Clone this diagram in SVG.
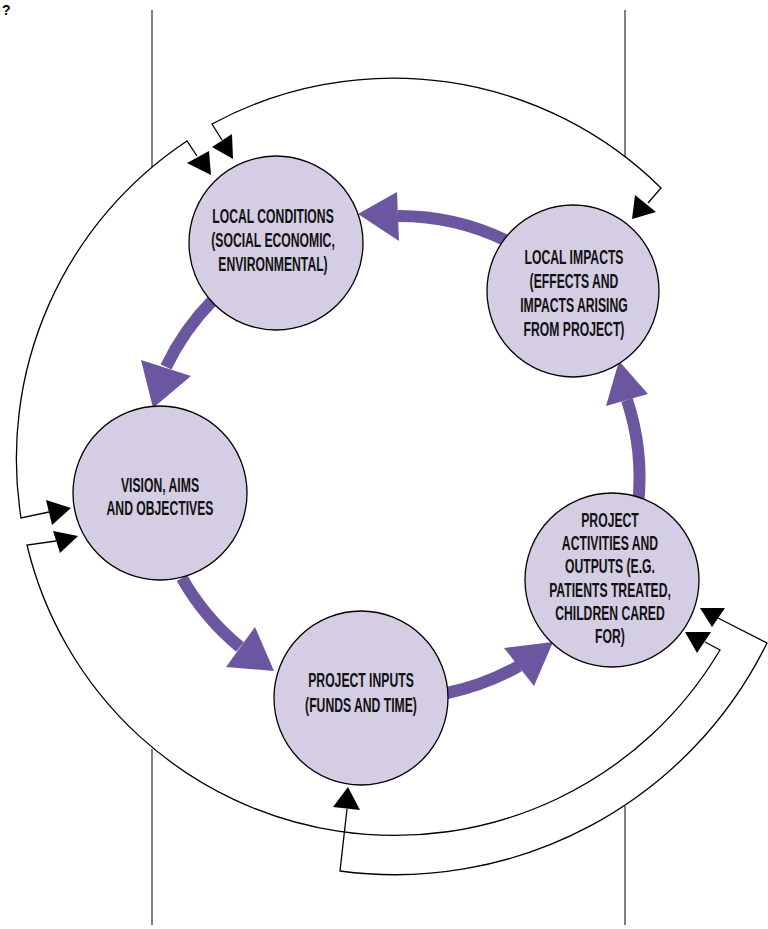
<svg xmlns="http://www.w3.org/2000/svg" width="768" height="929" viewBox="0 0 768 929">
<style>
.node circle{fill:#d4cde4;stroke:#000;stroke-width:1.3}
.node text{font-family:"Liberation Sans",Arial,sans-serif;font-size:21px;font-weight:bold;fill:#111;text-anchor:middle}
.guide{stroke:#555;stroke-width:1.5;fill:none}
.fb{fill:none;stroke:#000;stroke-width:1.3}
.fbh{fill:#000}
.pa{fill:none;stroke:#6b56a0;stroke-width:12}
.pah{fill:#6b56a0}
</style>
<rect width="768" height="929" fill="#fff"/>
<text x="2" y="15" font-family="Liberation Sans,sans-serif" font-size="14" font-weight="bold">?</text>
<g id="guides">
<line class="guide" x1="152" y1="10" x2="152" y2="167"/>
<line class="guide" x1="152" y1="749" x2="152" y2="925"/>
<line class="guide" x1="625" y1="10" x2="625" y2="157"/>
<line class="guide" x1="625" y1="806" x2="625" y2="925"/>
</g>
<g id="connectors">
<path class="fb" d="M648,203 L661,188 A381,381 0 0 0 212,124 L222,140"/>
<polygon class="fbh" points="635,195 656,212 632,219"/>
<polygon class="fbh" points="212,147 232,134 233,159"/>
<path class="fb" d="M197,156 L187,141 A381,381 0 0 0 21,518 L49,512"/>
<polygon class="fbh" points="187,163 209,151 211,175"/>
<polygon class="fbh" points="46,500 52,525 71,508"/>
<path class="fb" d="M56,541 L27,545 A378,378 0 0 0 720,650 L705,642"/>
<polygon class="fbh" points="53,531 60,553 78,536"/>
<polygon class="fbh" points="711,632 697,653 685,632"/>
<path class="fb" d="M718,618 L767,643 A414,414 0 0 1 340,871 L347,809"/>
<polygon class="fbh" points="725,608 712,627 700,608"/>
<polygon class="fbh" points="333,807 360,810 348,787"/>
<path class="pa" d="M213,300 A246,246 0 0 0 166,367"/>
<polygon class="pah" points="141,360 191,376 153,408"/>
<path class="pa" d="M505,240 A246,246 0 0 0 398,216"/>
<polygon class="pah" points="397,192 399,241 358,214"/>
<path class="pa" d="M182,578 A246,246 0 0 0 240,647"/>
<polygon class="pah" points="226,667 255,627 274,671"/>
<path class="pa" d="M447,693 A246,246 0 0 0 519,666"/>
<polygon class="pah" points="504,648 534,686 553,642"/>
<path class="pa" d="M638,505 A246,246 0 0 0 627,400"/>
<polygon class="pah" points="606,406 648,394 619,361"/>
</g>
<g id="local-conditions" class="node">
<circle cx="276" cy="243" r="87"/>
<g transform="translate(273,0) scale(0.58,1)">
<text x="0" y="223">LOCAL CONDITIONS</text>
<text x="0" y="247">(SOCIAL ECONOMIC,</text>
<text x="0" y="271">ENVIRONMENTAL)</text>
</g>
</g>
<g id="local-impacts" class="node">
<circle cx="573" cy="291" r="86"/>
<g transform="translate(574,0) scale(0.58,1)">
<text x="0" y="264">LOCAL IMPACTS</text>
<text x="0" y="288">(EFFECTS AND</text>
<text x="0" y="312">IMPACTS ARISING</text>
<text x="0" y="336">FROM PROJECT)</text>
</g>
</g>
<g id="vision" class="node">
<circle cx="160" cy="493" r="87"/>
<g transform="translate(160,0) scale(0.58,1)">
<text x="0" y="492">VISION, AIMS</text>
<text x="0" y="515">AND OBJECTIVES</text>
</g>
</g>
<g id="project-inputs" class="node">
<circle cx="361" cy="698" r="87"/>
<g transform="translate(361,0) scale(0.58,1)">
<text x="0" y="687">PROJECT INPUTS</text>
<text x="0" y="712">(FUNDS AND TIME)</text>
</g>
</g>
<g id="project-activities" class="node">
<circle cx="612" cy="580" r="87"/>
<g transform="translate(610,0) scale(0.58,1)">
<text x="0" y="527">PROJECT</text>
<text x="0" y="550">ACTIVITIES AND</text>
<text x="0" y="573">OUTPUTS (E.G.</text>
<text x="0" y="597">PATIENTS TREATED,</text>
<text x="0" y="620">CHILDREN CARED</text>
<text x="0" y="643">FOR)</text>
</g>
</g>
</svg>
